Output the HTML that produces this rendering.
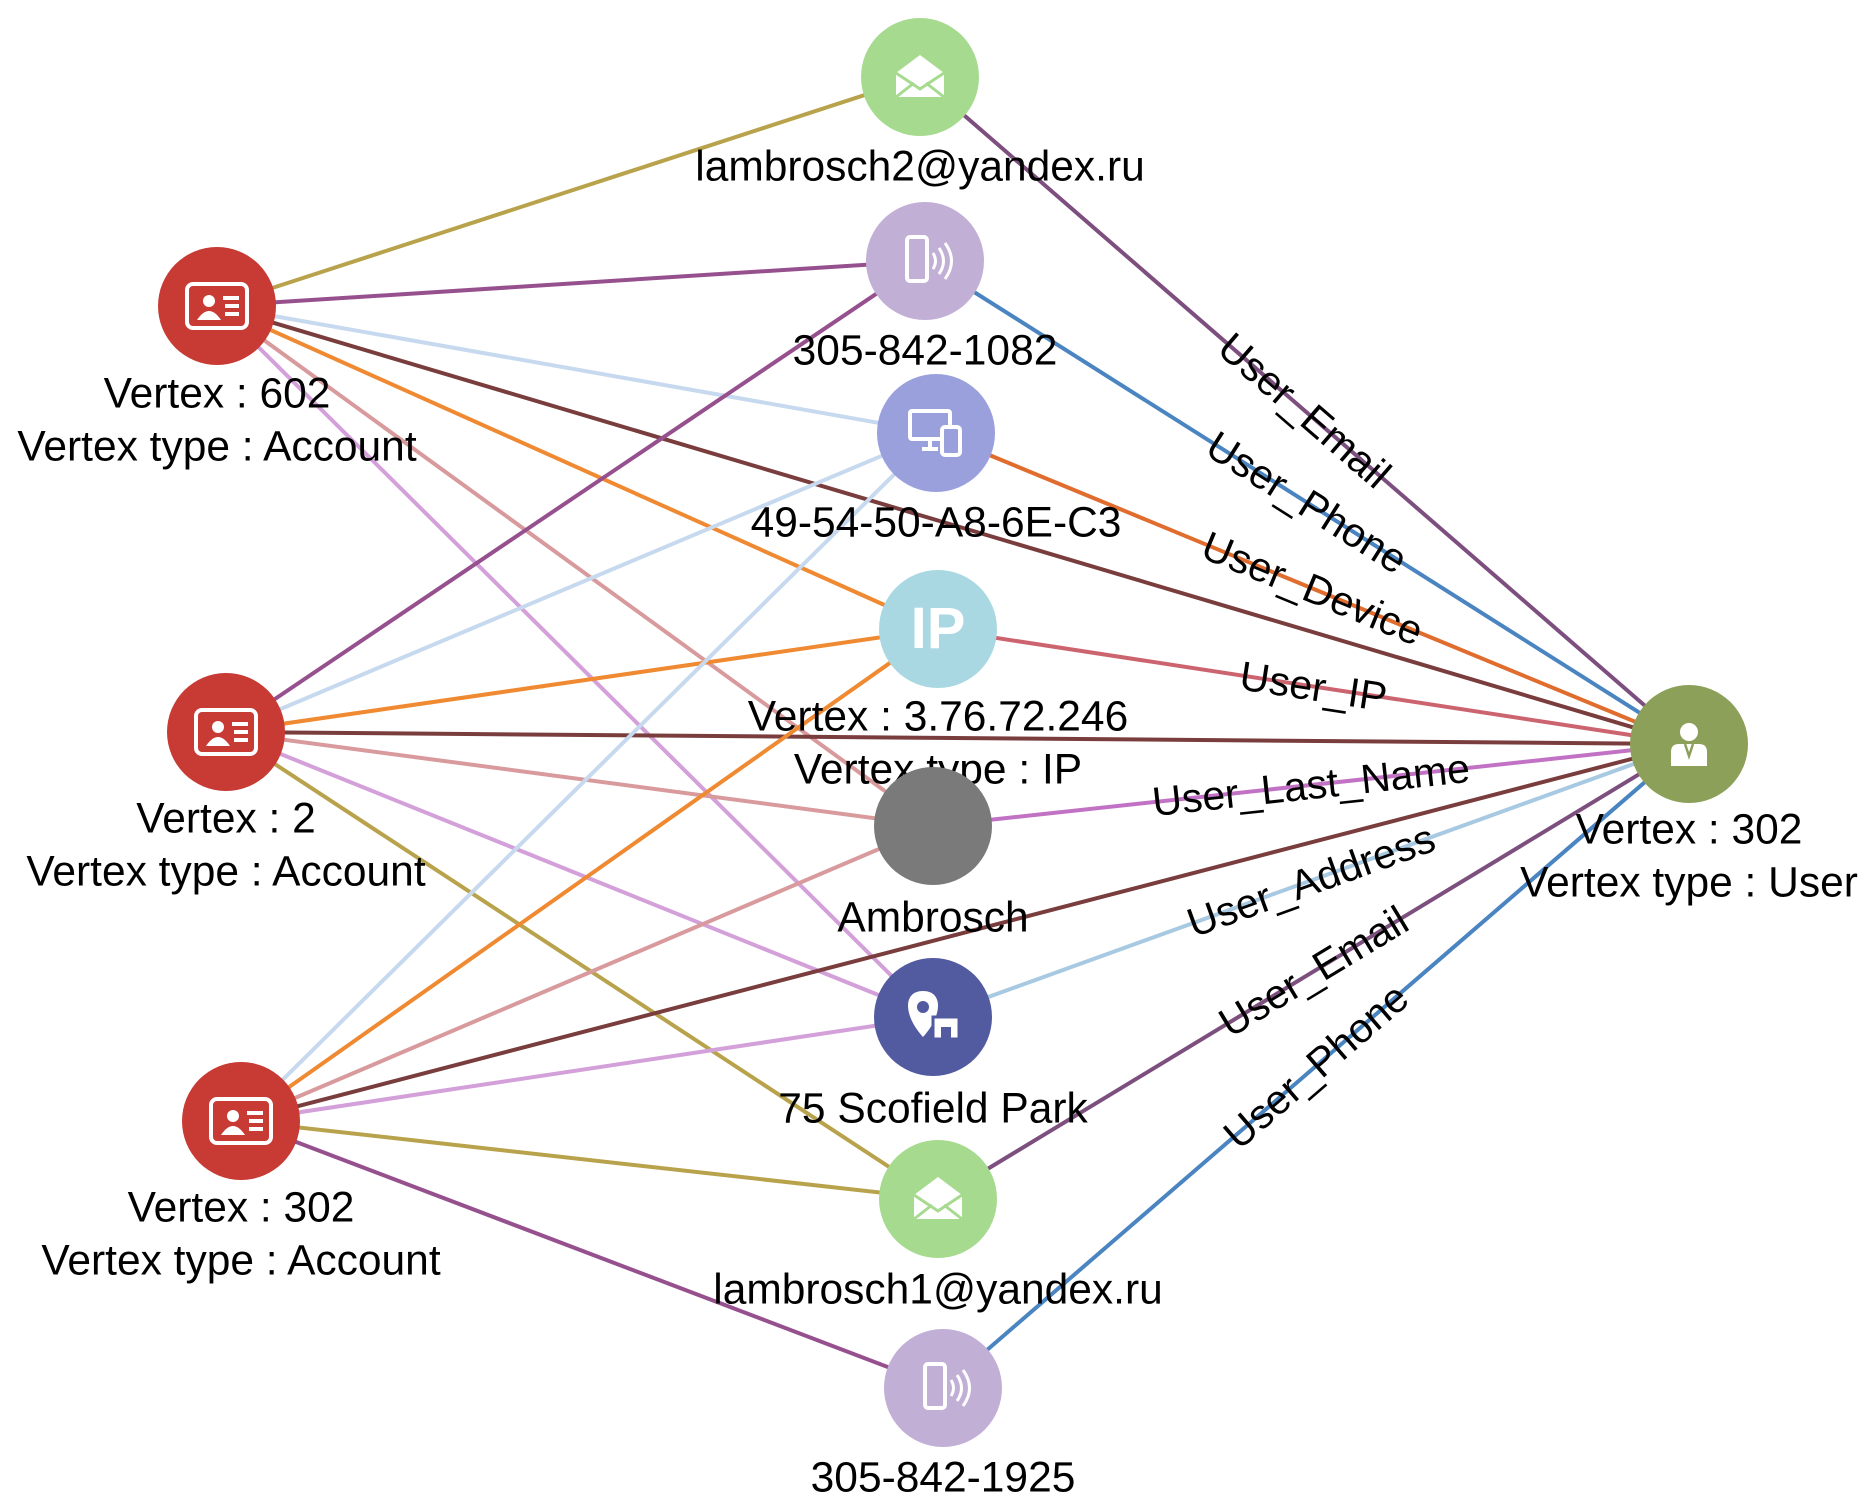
<!DOCTYPE html>
<html><head><meta charset="utf-8"><style>
html,body{margin:0;padding:0;background:#fff;width:1872px;height:1504px;overflow:hidden}
svg{display:block;font-family:"Liberation Sans",sans-serif}
</style></head><body>
<svg id="g" width="1872" height="1504" viewBox="0 0 1872 1504">
<g id="edges"></g>
<g id="elabels"></g>
<g id="nodes"></g>
</svg>
<script>
const nodeIds = ["email2","phone1082","device","ip","ambrosch","address","email1","phone1925","acc602","acc2","acc302","user302"];
const nodeKinds = ["email","phone","device","ip","name","address","email","phone","account","account","account","user"];
const nodeLabels = [
 ["lambrosch2@yandex.ru"],["305-842-1082"],["49-54-50-A8-6E-C3"],["Vertex : 3.76.72.246","Vertex type : IP"],
 ["Ambrosch"],["75 Scofield Park"],["lambrosch1@yandex.ru"],["305-842-1925"],
 ["Vertex : 602","Vertex type : Account"],["Vertex : 2","Vertex type : Account"],["Vertex : 302","Vertex type : Account"],
 ["Vertex : 302","Vertex type : User"]];
const nodeX = [920,925,936,938,933,933,938,943,217,226,241,1689];
const nodeY = [77,261,433,629,826,1017,1199,1388,306,732,1121,744];
const edgeFrom = ["acc602","acc602","acc602","acc602","acc602","acc602","acc602",
 "acc2","acc2","acc2","acc2","acc2","acc2","acc2",
 "acc302","acc302","acc302","acc302","acc302","acc302","acc302",
 "user302","user302","user302","user302","user302","user302","user302","user302"];
const edgeTo = ["email2","phone1082","device","ip","user302","ambrosch","address",
 "phone1082","device","ip","user302","ambrosch","address","email1",
 "device","ip","ambrosch","user302","address","email1","phone1925",
 "email2","phone1082","device","ip","ambrosch","address","email1","phone1925"];
const edgeText = ["","","","","","","","","","","","","","","","","","","","","",
 "User_Email","User_Phone","User_Device","User_IP","User_Last_Name","User_Address","User_Email","User_Phone"];
const kindColor = {email:"#a6db8f",phone:"#c1afd6",device:"#9aa0dc",ip:"#a9d8e3",name:"#7a7a7a",address:"#525aa0",account:"#c83a34",user:"#8ca05a"};
const edgeColor = {email:"#b8a34c",phone:"#96508e",device:"#c6d9ee",ip:"#ef8a32",user:"#7a3d3d",name:"#d89a9c",address:"#d3a0da"};
const userEdgeColor = {email:"#7d4f7f",phone:"#4a84c1",device:"#e06c2e",ip:"#cc6470",name:"#c172c4",address:"#a8c9e2"};
const NS="http://www.w3.org/2000/svg";
function mk(t,a,p){const e=document.createElementNS(NS,t);for(const k in a)e.setAttribute(k,a[k]);p.appendChild(e);return e;}
function idx(id){return nodeIds.indexOf(id);}
const E=document.getElementById('edges'),L=document.getElementById('elabels'),N=document.getElementById('nodes');
for(let i=0;i<edgeFrom.length;i++){
 const a=idx(edgeFrom[i]),b=idx(edgeTo[i]);
 const isUser=edgeFrom[i]==="user302";
 const kind = isUser? nodeKinds[b] : (edgeTo[i]==="user302"?"user":nodeKinds[b]);
 const col = isUser? userEdgeColor[kind] : edgeColor[kind];
 const ln=mk('line',{x1:nodeX[a],y1:nodeY[a],x2:nodeX[b],y2:nodeY[b],stroke:col,'stroke-width':4},E);
 
 
 const txt=edgeText[i];
 if(isUser && txt){
  const f=0.5;
  const mx=nodeX[b]+(nodeX[a]-nodeX[b])*f, my=nodeY[b]+(nodeY[a]-nodeY[b])*f;
  let ang=Math.atan2(nodeY[a]-nodeY[b],nodeX[a]-nodeX[b])*180/Math.PI;
  if(ang>90)ang-=180; if(ang<-90)ang+=180;
  const t=mk('text',{x:0,y:0,'font-size':41,'text-anchor':'middle','dominant-baseline':'central',fill:'#000',
   transform:`translate(${mx},${my}) rotate(${ang})`},L);
  t.textContent=txt;
  
  
 }
}
const icons={
 email:'<path d="M-24,-4 L0,-22 L24,-4 L24,20 L-24,20 Z" fill="#fff"/><path d="M-24,-4 L0,12 L24,-4" fill="none" stroke="'+kindColor.email+'" stroke-width="3"/><path d="M-24,20 L-6,6 M24,20 L6,6" stroke="'+kindColor.email+'" stroke-width="3"/>',
 phone:'<rect x="-18" y="-24" width="20" height="44" rx="3" fill="none" stroke="#fff" stroke-width="4"/><path d="M8,-8 q5,8 0,16 M14,-13 q9,13 0,26 M20,-18 q13,18 0,36" fill="none" stroke="#fff" stroke-width="3"/>',
 device:'<rect x="-26" y="-22" width="40" height="28" rx="2" fill="none" stroke="#fff" stroke-width="4"/><path d="M-14,16 h16 M-6,6 v10" stroke="#fff" stroke-width="4"/><rect x="6" y="-6" width="18" height="28" rx="3" fill="'+kindColor.device+'" stroke="#fff" stroke-width="4"/>',
 ip:'<text x="0" y="19" text-anchor="middle" font-size="58" font-weight="bold" fill="#fff">IP</text>',
 name:'',
 address:'<path d="M-10,20 C-30,-2 -30,-26 -10,-26 C10,-26 10,-2 -10,20 Z" fill="#fff"/><circle cx="-10" cy="-10" r="6" fill="'+kindColor.address+'"/><rect x="0" y="0" width="26" height="22" fill="#fff" stroke="'+kindColor.address+'" stroke-width="3"/><rect x="8" y="10" width="10" height="12" fill="'+kindColor.address+'"/>',
 account:'<rect x="-30" y="-22" width="60" height="44" rx="6" fill="none" stroke="#fff" stroke-width="4"/><circle cx="-8" cy="-5" r="6" fill="#fff"/><path d="M-20,14 q12,-18 24,0 Z" fill="#fff"/><path d="M6,-8 h16 M8,0 h14 M8,8 h14" stroke="#fff" stroke-width="4"/>',
 user:'<circle cx="0" cy="-12" r="9" fill="#fff"/><path d="M-18,22 v-14 q0,-8 8,-8 h20 q8,0 8,8 v14 Z" fill="#fff"/><path d="M-4,0 L0,12 L4,0" fill="none" stroke="'+kindColor.user+'" stroke-width="2.5"/>'
};
const labelOff={email2:90,phone1082:90,device:90,ip:88,ambrosch:92,address:92,email1:91,phone1925:90,acc602:88,acc2:87,acc302:87,user302:86};
for(let i=0;i<nodeIds.length;i++){
 const g=mk('g',{transform:`translate(${nodeX[i]},${nodeY[i]})`},N);
 
 
 mk('circle',{r:59,fill:kindColor[nodeKinds[i]]},g);
 const ic=mk('g',{},g); ic.innerHTML=icons[nodeKinds[i]];
 const lines=nodeLabels[i];
 lines.forEach((s,j)=>{
  const t=mk('text',{x:0,y:labelOff[nodeIds[i]]+j*53,'font-size':42.5,'text-anchor':'middle','dominant-baseline':'central',fill:'#000'},g);
  t.textContent=s;
  
  
 });
}
</script>
</body></html>
